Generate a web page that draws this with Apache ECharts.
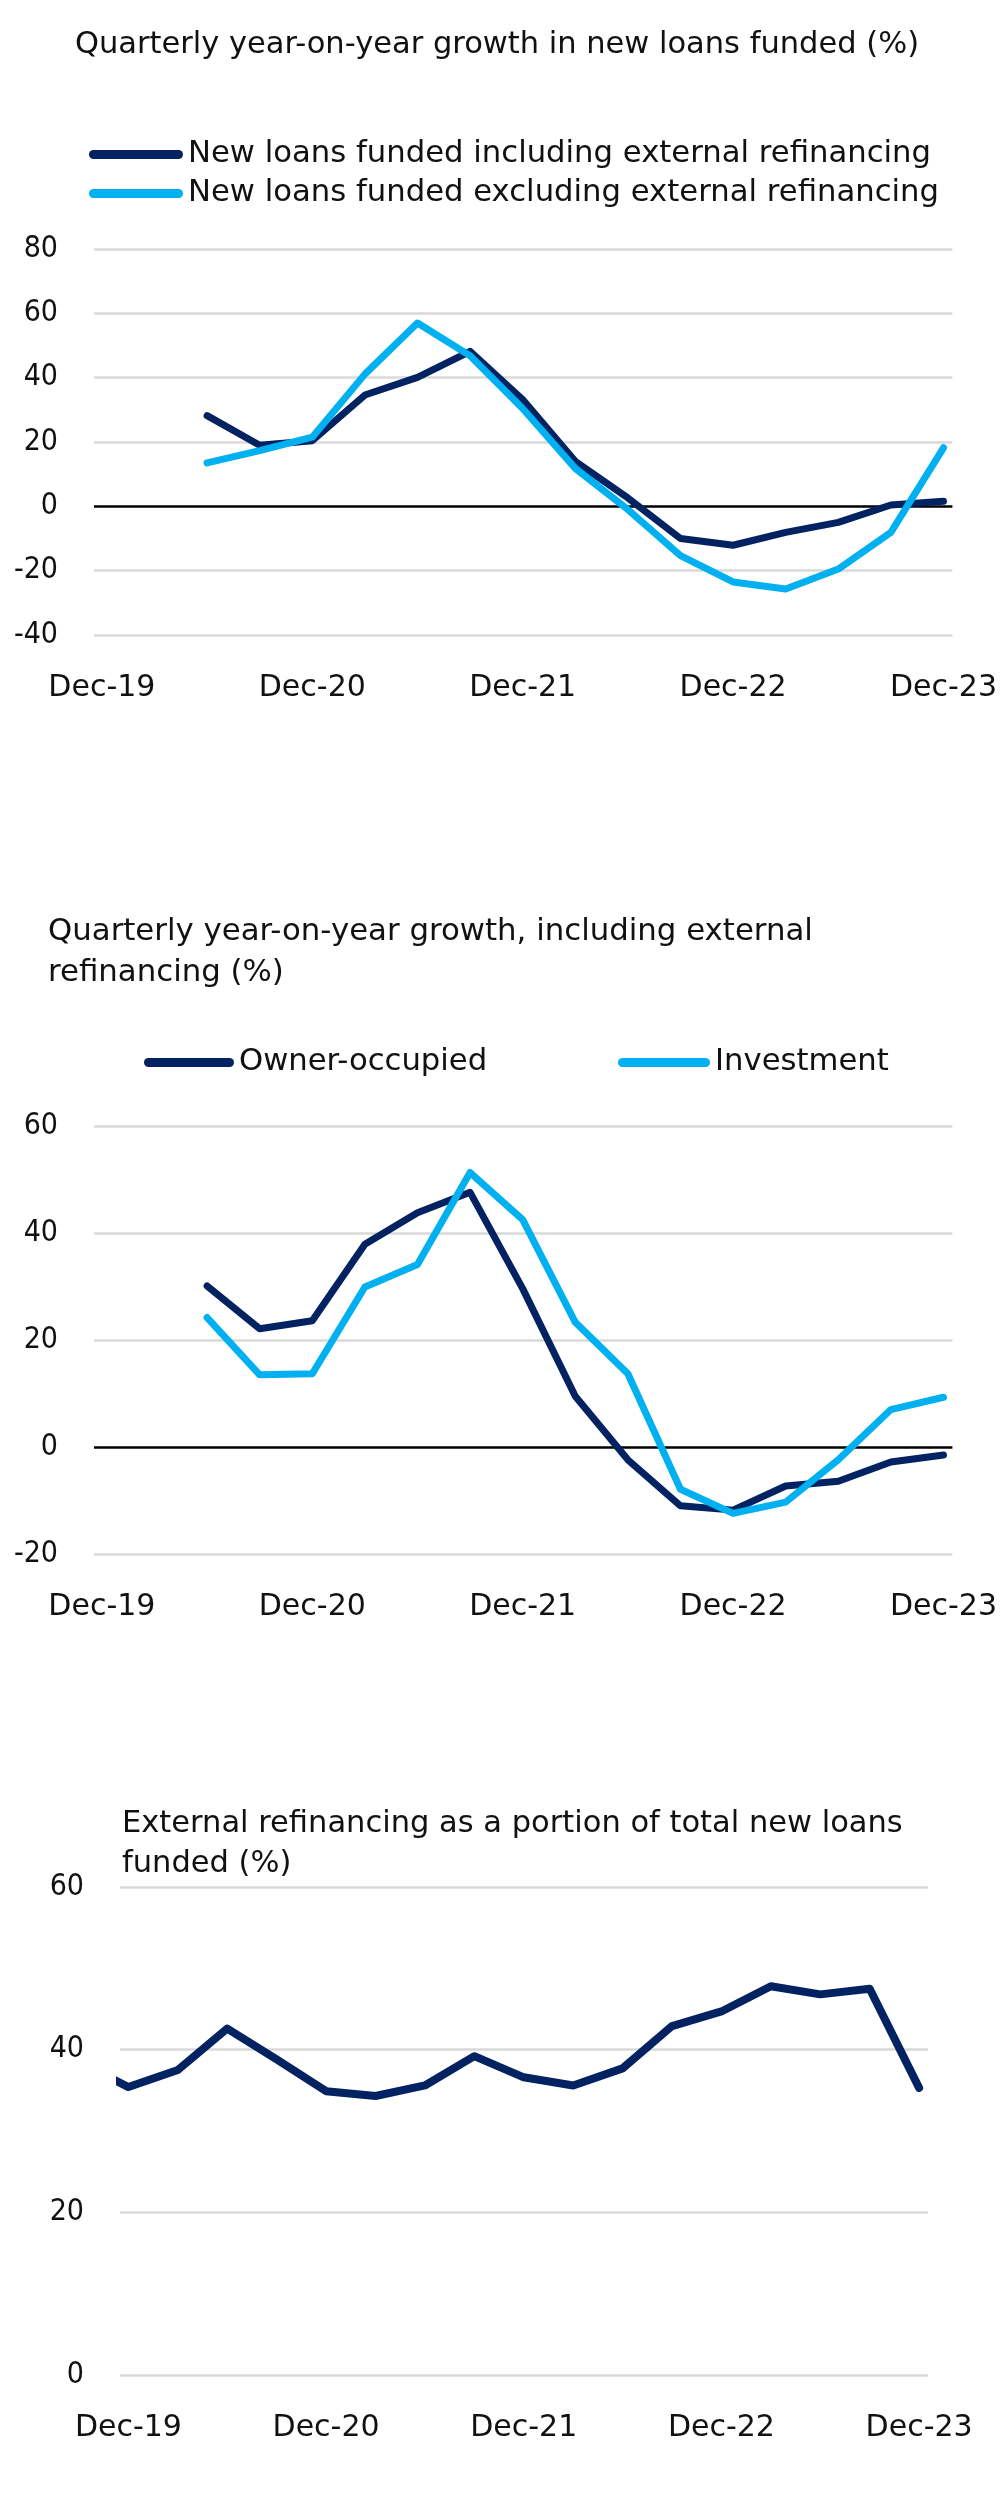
<!DOCTYPE html>
<html>
<head>
<meta charset="utf-8">
<script src="https://cdn.jsdelivr.net/npm/echarts@6/dist/echarts.min.js"></script>
<style>
html,body{margin:0;padding:0;background:#fff;}
#chart{width:1000px;height:2520px;}
</style>
</head>
<body>
<div id="chart"></div>
<script>
// ---- data ----
const yearLabels = ['Dec-19', 'Dec-20', 'Dec-21', 'Dec-22', 'Dec-23'];
const quartersFromJun20 = ['Jun-20','Sep-20','Dec-20','Mar-21','Jun-21','Sep-21','Dec-21','Mar-22','Jun-22','Sep-22','Dec-22','Mar-23','Jun-23','Sep-23','Dec-23'];
const quartersFromSep19 = ['Sep-19','Dec-19','Mar-20','Jun-20','Sep-20','Dec-20','Mar-21','Jun-21','Sep-21','Dec-21','Mar-22','Jun-22','Sep-22','Dec-22','Mar-23','Jun-23','Sep-23','Dec-23'];

const inclExternal = [28.2, 19.0, 20.4, 34.6, 40.1, 48.2, 33.2, 14.0, 2.6, -10.0, -12.1, -8.1, -5.0, 0.4, 1.6];
const exclExternal = [13.5, 17.3, 21.5, 41.1, 57.0, 46.8, 30.4, 11.8, -1.0, -15.3, -23.5, -25.7, -19.5, -8.1, 18.2];

const ownerOccupied = [30.1, 22.1, 23.6, 37.9, 43.8, 47.6, 29.6, 9.5, -2.4, -11.0, -11.8, -7.3, -6.4, -2.8, -1.5];
const investment = [24.2, 13.5, 13.7, 29.9, 34.1, 51.3, 42.5, 23.3, 13.7, -7.9, -12.4, -10.3, -2.4, 7.0, 9.3];

const externalShare = [38.5, 35.4, 37.5, 42.6, 38.8, 34.9, 34.3, 35.6, 39.2, 36.6, 35.6, 37.7, 42.9, 44.7, 47.8, 46.8, 47.5, 35.3];

const yTicks1 = [-40, -20, 0, 20, 40, 60, 80];
const yTicks2 = [-20, 0, 20, 40, 60];
const yTicks3 = [0, 20, 40, 60];

// ---- helpers ----
const NAVY = '#022262';
const CYAN = '#00b0f0';
const FONT = '"DejaVu Sans", sans-serif';
const NUMFONT = '"DejaVu Sans Condensed", "DejaVu Sans", sans-serif';
const allQuarters = ['Dec-19','Mar-20','Jun-20','Sep-20','Dec-20','Mar-21','Jun-21','Sep-21','Dec-21','Mar-22','Jun-22','Sep-22','Dec-22','Mar-23','Jun-23','Sep-23','Dec-23'];
function qIndex(label) {
  if (label === 'Sep-19') return -1;
  return allQuarters.indexOf(label);
}
function toPairs(labels, values) {
  return values.map((v, i) => [qIndex(labels[i]), v]);
}
function xAxisFor(gridIndex, min, max) {
  return {
    type: 'value', gridIndex, min, max,
    axisLine: {show: false}, axisTick: {show: false}, splitLine: {show: false},
    axisLabel: {
      customValues: [0, 4, 8, 12, 16],
      formatter: v => yearLabels[Math.round(v / 4)],
      fontSize: 30, color: '#111', fontFamily: FONT, margin: 38
    }
  };
}
function yAxisFor(gridIndex, ticks, zeroLine) {
  const colors = ticks.map(t => (zeroLine && t === 0) ? '#000000' : '#d9d9d9');
  return {
    type: 'value', gridIndex, min: ticks[0], max: ticks[ticks.length - 1], interval: 20,
    axisLine: {show: false}, axisTick: {show: false},
    splitLine: {show: true, lineStyle: {color: colors, width: 2.5}},
    axisLabel: {fontSize: 30, color: '#111', fontFamily: NUMFONT, margin: 36}
  };
}
function lineSeries(name, xi, yi, data, color, width) {
  return {
    name, type: 'line', xAxisIndex: xi, yAxisIndex: yi, data,
    showSymbol: false, symbol: 'none', smooth: false, animation: false,
    lineStyle: {color, width, join: 'round', cap: 'round'},
    itemStyle: {color}
  };
}
function pill(w, h) {
  const r = h / 2;
  return `path://M${r},0 H${w - r} A${r},${r} 0 0 1 ${w - r},${h} H${r} A${r},${r} 0 0 1 ${r},0 Z`;
}
function legendFor(name, left, centerY, width, fontSize) {
  return {
    data: [name], left, top: centerY - 18, padding: 0,
    icon: pill(width, 9), itemWidth: width, itemHeight: 9, itemGap: 10,
    itemStyle: {borderWidth: 0},
    textStyle: {fontSize, color: '#111', fontFamily: FONT, lineHeight: 36, padding: [0, 0, 0, 0]},
    selectedMode: false
  };
}

const chart = echarts.init(document.getElementById('chart'), null, {renderer: 'canvas'});
chart.setOption({
  backgroundColor: '#fff',
  animation: false,
  title: [
    {text: 'Quarterly year-on-year growth in new loans funded (%)', left: 75, top: 45 - 20, padding: 0,
     textStyle: {fontSize: 30.5, fontWeight: 'normal', color: '#111', fontFamily: FONT, lineHeight: 40}},
    {text: 'Quarterly year-on-year growth, including external\nrefinancing (%)', left: 48, top: 932 - 20.5, padding: 0,
     textStyle: {fontSize: 30.8, fontWeight: 'normal', color: '#111', fontFamily: FONT, lineHeight: 41}},
    {text: 'External refinancing as a portion of total new loans\nfunded (%)', left: 122, top: 1824 - 20, padding: 0,
     textStyle: {fontSize: 30.5, fontWeight: 'normal', color: '#111', fontFamily: FONT, lineHeight: 40}}
  ],
  legend: [
    legendFor('New loans funded including external refinancing', 89, 154.5, 94, 30.7),
    legendFor('New loans funded excluding external refinancing', 89, 193.5, 94, 30.7),
    legendFor('Owner-occupied', 144, 1062.5, 90, 30.7),
    legendFor('Investment', 618, 1062.5, 92, 30.7)
  ],
  grid: [
    {left: 94, width: 862, top: 249, height: 386},
    {left: 94, width: 862, top: 1126, height: 428},
    {left: 120, width: 808, top: 1887, height: 488}
  ],
  xAxis: [
    xAxisFor(0, -0.15, 16.17),
    xAxisFor(1, -0.15, 16.17),
    xAxisFor(2, -0.17, 16.18)
  ],
  yAxis: [
    yAxisFor(0, yTicks1, true),
    yAxisFor(1, yTicks2, true),
    yAxisFor(2, yTicks3, false)
  ],
  series: [
    lineSeries('New loans funded including external refinancing', 0, 0, toPairs(quartersFromJun20, inclExternal), NAVY, 7),
    lineSeries('New loans funded excluding external refinancing', 0, 0, toPairs(quartersFromJun20, exclExternal), CYAN, 7),
    lineSeries('Owner-occupied', 1, 1, toPairs(quartersFromJun20, ownerOccupied), NAVY, 7),
    lineSeries('Investment', 1, 1, toPairs(quartersFromJun20, investment), CYAN, 7),
    lineSeries('External refinancing share', 2, 2, toPairs(quartersFromSep19, externalShare), NAVY, 8)
  ]
});
</script>
</body>
</html>
